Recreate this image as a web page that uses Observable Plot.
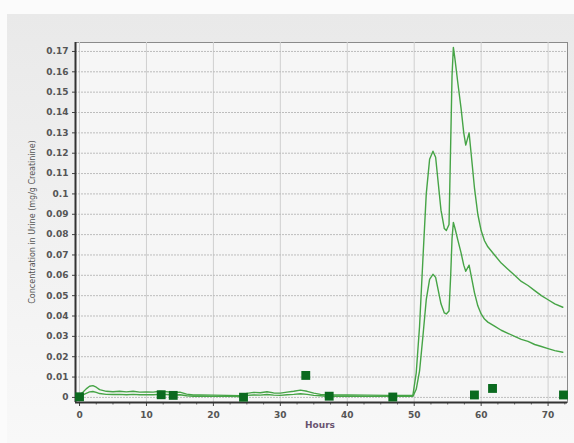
<!DOCTYPE html>
<html>
<head>
<meta charset="utf-8">
<script src="https://cdn.jsdelivr.net/npm/d3@7"></script>
<script src="https://cdn.jsdelivr.net/npm/@observablehq/plot@0.6"></script>
<style>
  html, body { margin: 0; padding: 0; background: #fbfbfb; }
  #wrap { position: relative; width: 574px; height: 443px; overflow: hidden; }
  #panel { position: absolute; left: 7px; top: 14px; right: 0; bottom: 0;
           background: linear-gradient(#e9e9e9, #f6f6f6 85%, #f8f8f8); }
  #chart { position: absolute; left: 0; top: 0; }
</style>
</head>
<body>
<div id="wrap"><div id="panel"></div><div id="chart"></div></div>
<script>
// Simulated urine concentration: time points (hours) and the two model curves
const hours = [0, 0.5, 1, 1.5, 2, 2.5, 3, 4, 5, 6, 7, 8, 9, 10, 11, 12, 13, 14, 15, 16,
  17, 18, 20, 22, 24, 24.6, 25, 26, 27, 28, 29, 30, 31, 32, 33, 34, 35, 36, 37, 40,
  43, 46, 49, 49.8, 50.3, 50.8, 51.3, 51.8, 52.3, 52.8, 53.2, 53.6, 54.0, 54.5, 54.8, 55.2,
  55.45, 55.65, 55.85, 56.1, 56.5, 57.0, 57.4, 57.7, 58.2, 58.5, 59.0, 59.5, 60.0, 60.5,
  61.0, 62, 63, 64, 65, 66, 67, 68, 69, 70, 71, 72.2];

const upper = [0.0012, 0.0025, 0.0042, 0.0055, 0.0058, 0.005, 0.0038, 0.003, 0.0028, 0.003,
  0.0027, 0.003, 0.0026, 0.0027, 0.0026, 0.003, 0.0028, 0.0025, 0.0026, 0.0016,
  0.0012, 0.0012, 0.0011, 0.001, 0.0008, 0.0012, 0.002, 0.0025, 0.0023, 0.0028,
  0.0022, 0.0021, 0.0026, 0.003, 0.0036, 0.003, 0.0021, 0.0015, 0.0012, 0.0012,
  0.0011, 0.001, 0.001, 0.001, 0.012, 0.035, 0.068, 0.1, 0.117, 0.121,
  0.118, 0.105, 0.092, 0.083, 0.082, 0.085, 0.125, 0.158, 0.172, 0.166,
  0.155, 0.142, 0.13, 0.124, 0.13, 0.12, 0.103, 0.09, 0.082, 0.077,
  0.074, 0.07, 0.066, 0.063, 0.06, 0.057, 0.055, 0.0525, 0.05, 0.048, 0.046, 0.0443];

const lower = [0.0006, 0.0012, 0.002, 0.0027, 0.0029, 0.0025, 0.0019, 0.0015, 0.0014, 0.0015,
  0.0013, 0.0015, 0.0013, 0.0013, 0.0013, 0.0015, 0.0014, 0.0012, 0.0013, 0.0008,
  0.0006, 0.0006, 0.0005, 0.0005, 0.0004, 0.0006, 0.001, 0.0012, 0.0011, 0.0014,
  0.0011, 0.001, 0.0013, 0.0015, 0.0018, 0.0015, 0.001, 0.0008, 0.0006, 0.0006,
  0.0005, 0.0005, 0.0005, 0.0005, 0.004, 0.013, 0.03, 0.048, 0.058, 0.0605,
  0.059, 0.0525, 0.046, 0.0415, 0.041, 0.0425, 0.06, 0.078, 0.086, 0.083,
  0.0775, 0.071, 0.065, 0.062, 0.065, 0.06, 0.0515, 0.045, 0.041, 0.0385,
  0.037, 0.035, 0.033, 0.0315, 0.03, 0.0285, 0.0275, 0.026, 0.025, 0.024, 0.023, 0.0222];

// Measured samples
const obsHours = [0, 12.2, 14, 24.5, 33.8, 37.3, 46.8, 59, 61.7, 72.3];
const obsValues = [0.0003, 0.0013, 0.001, 0.0001, 0.0108, 0.0006, 0.0002, 0.0012, 0.0044, 0.0012];

// Axis ticks
const xTicks = [0, 10, 20, 30, 40, 50, 60, 70];
const xMinorTicks = [2.5, 5, 7.5, 12.5, 15, 17.5, 22.5, 25, 27.5, 32.5, 35, 37.5, 42.5, 45, 47.5,
  52.5, 55, 57.5, 62.5, 65, 67.5, 72.5];
const yTicks = [0, 0.01, 0.02, 0.03, 0.04, 0.05, 0.06, 0.07, 0.08, 0.09, 0.1,
  0.11, 0.12, 0.13, 0.14, 0.15, 0.16, 0.17];

const curves = hours.map((h, i) => ({h, upper: upper[i], lower: lower[i]}));
const observed = obsHours.map((h, i) => ({h, v: obsValues[i]}));

const lineColor = "#46a446";
const font = "DejaVu Sans, sans-serif";

const chart = Plot.plot({
  width: 574,
  height: 443,
  marginLeft: 75,
  marginRight: 7,
  marginTop: 42,
  marginBottom: 41,
  style: {background: "transparent", fontFamily: font, fontSize: "9px", color: "#555"},
  x: {domain: [-0.6, 72.9], label: null},
  y: {domain: [-0.0025, 0.1744], label: null},
  marks: [
    Plot.frame({fill: "#f6f6f6", stroke: "#8a8a8a", strokeWidth: 1}),
    Plot.gridX(xTicks, {stroke: "#cfcfcf", strokeOpacity: 1, strokeWidth: 1}),
    Plot.gridY(yTicks, {stroke: "#bdbdbd", strokeOpacity: 1, strokeWidth: 1, strokeDasharray: "2,1"}),
    Plot.axisY(yTicks, {tickSize: 3, tickPadding: 4, stroke: "#444", fill: "#555",
      fontWeight: "bold", fontSize: 9, tickFormat: d => d3.format("")(+d.toFixed(2))}),
    Plot.axisX(xTicks, {tickSize: 4, tickPadding: 5, stroke: "#444", fill: "#555",
      fontWeight: "bold", fontSize: 9, tickFormat: d => String(d)}),
    Plot.axisX(xMinorTicks, {tickSize: 2.5, stroke: "#666", tickFormat: () => ""}),
    Plot.ruleX([-0.6], {stroke: "#333", strokeWidth: 2}),
    Plot.ruleY([-0.0025], {stroke: "#333", strokeWidth: 2}),
    Plot.lineY(curves, {x: "h", y: "upper", stroke: lineColor, strokeWidth: 1.4, curve: "linear"}),
    Plot.lineY(curves, {x: "h", y: "lower", stroke: lineColor, strokeWidth: 1.4, curve: "linear"}),
    Plot.dot(observed, {x: "h", y: "v", symbol: "square", r: 5, fill: "#0b6a1f", stroke: "none"})
  ]
});

// Axis titles
const svg = d3.select(chart);
svg.append("text")
  .attr("x", 320).attr("y", 428)
  .attr("text-anchor", "middle")
  .attr("font-family", font).attr("font-size", 9).attr("font-weight", "bold")
  .attr("fill", "#6a5470")
  .text("Hours");
svg.append("text")
  .attr("transform", "translate(35,222) rotate(-90)")
  .attr("text-anchor", "middle")
  .attr("font-family", font).attr("font-size", 8)
  .attr("fill", "#555")
  .text("Concentration in Urine (mg/g Creatinine)");

document.getElementById("chart").appendChild(chart);
</script>
</body>
</html>
